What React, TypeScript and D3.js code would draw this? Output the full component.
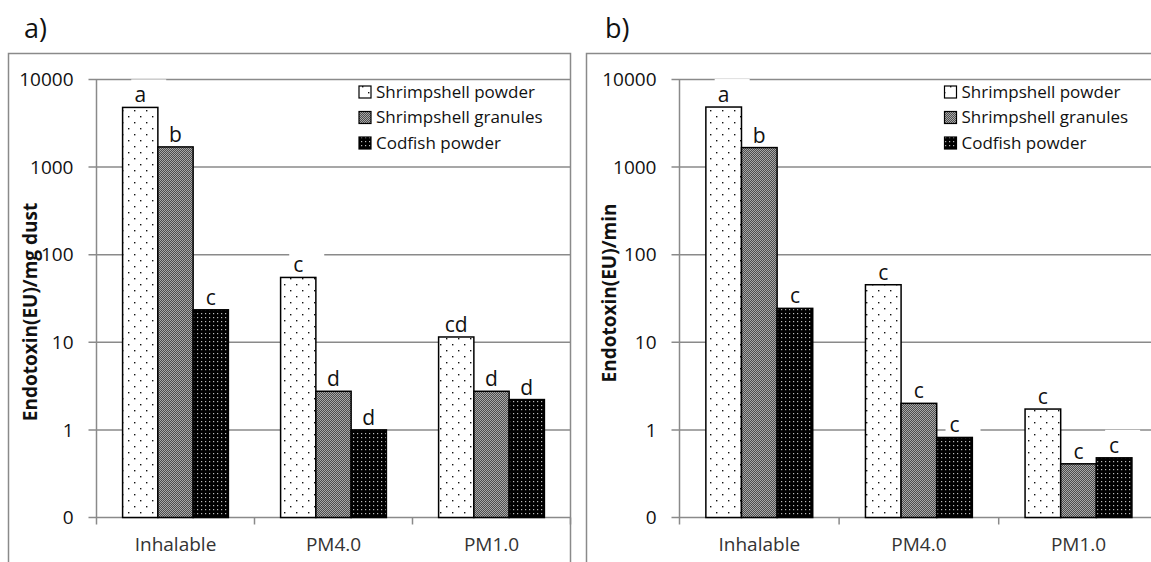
import { useEffect, useRef } from "react";
import * as d3 from "d3";

const W = 1151;
const H = 562;

const categories = ["Inhalable", "PM4.0", "PM1.0"];
const seriesNames = ["Shrimpshell powder", "Shrimpshell granules", "Codfish powder"];
const yTicks = [0.1, 1, 10, 100, 1000, 10000];
const yTickLabels = ["0", "1", "10", "100", "1000", "10000"];

// a) endotoxin per mg dust
const powderA = [4800, 55, 11.5];
const granulesA = [1700, 2.76, 2.76];
const codfishA = [23.5, 1.0, 2.22];
const lettersA = [
  ["a", "c", "cd"],
  ["b", "d", "d"],
  ["c", "d", "d"],
];

// b) endotoxin per minute
const powderB = [4850, 45.4, 1.73];
const granulesB = [1670, 2.01, 0.41];
const codfishB = [24.4, 0.82, 0.48];
const lettersB = [
  ["a", "c", "c"],
  ["b", "c", "c"],
  ["c", "c", "c"],
];

const FONT = "'Open Sans', sans-serif";
const GRID = "#8a8a8a";
const fills = ["url(#pat-powder)", "url(#pat-granules)", "url(#pat-codfish)"];

const panels = [
  {
    tag: "a)",
    yTitle: "Endotoxin(EU)/mg dust",
    series: [powderA, granulesA, codfishA],
    letters: lettersA,
    frameX: 8.5,
    frameW: 562,
    titleX: 24,
    axisX: 96.5,
    band: 158,
    yTitleX: 37,
    yTitleY: 312,
    legendX: 359,
  },
  {
    tag: "b)",
    yTitle: "Endotoxin(EU)/min",
    series: [powderB, granulesB, codfishB],
    letters: lettersB,
    frameX: 586.5,
    frameW: 600,
    titleX: 605,
    axisX: 679.5,
    band: 159.6,
    yTitleX: 616,
    yTitleY: 293,
    legendX: 944.5,
  },
];

export default function App() {
  const svgRef = useRef<SVGSVGElement>(null);

  useEffect(() => {
    if (!svgRef.current) return;
    document.body.style.margin = "0";

    const svg = d3.select(svgRef.current);
    svg.selectAll("*").remove();

    // fill patterns
    const defs = svg.append("defs");
    const pPowder = defs
      .append("pattern")
      .attr("id", "pat-powder")
      .attr("patternUnits", "userSpaceOnUse")
      .attr("width", 12)
      .attr("height", 12);
    pPowder.append("rect").attr("width", 12).attr("height", 12).attr("fill", "#fff");
    [[2, 2], [8, 8]].forEach(([cx, cy]) =>
      pPowder.append("rect").attr("x", cx).attr("y", cy).attr("width", 1.4).attr("height", 1.4).attr("fill", "#111")
    );

    const pGran = defs
      .append("pattern")
      .attr("id", "pat-granules")
      .attr("patternUnits", "userSpaceOnUse")
      .attr("width", 2)
      .attr("height", 2);
    pGran.append("rect").attr("width", 2).attr("height", 2).attr("fill", "#4d4d4d");
    [[0, 0], [1, 1]].forEach(([x, y]) =>
      pGran.append("rect").attr("x", x).attr("y", y).attr("width", 1).attr("height", 1).attr("fill", "#a8a8a8")
    );

    const pCod = defs
      .append("pattern")
      .attr("id", "pat-codfish")
      .attr("patternUnits", "userSpaceOnUse")
      .attr("width", 4)
      .attr("height", 4);
    pCod.append("rect").attr("width", 4).attr("height", 4).attr("fill", "#000");
    pCod.append("rect").attr("x", 1).attr("y", 1).attr("width", 1.2).attr("height", 1.2).attr("fill", "#bbb");

    svg.append("rect").attr("width", W).attr("height", H).attr("fill", "#fff");

    const y = d3.scaleLog().domain([0.1, 10000]).range([517.5, 79.5]);
    const yBase = y(0.1);

    panels.forEach((p) => {
      const g = svg.append("g");
      const xRight = p.axisX + categories.length * p.band;

      const x = d3.scaleBand().domain(categories).range([p.axisX, xRight]).padding(0);
      const xs = d3
        .scaleBand()
        .domain(seriesNames)
        .range([0, p.band])
        .paddingInner(0)
        .paddingOuter(0.74);

      g.append("rect")
        .attr("x", p.frameX)
        .attr("y", 53.5)
        .attr("width", p.frameW)
        .attr("height", 600)
        .attr("fill", "#fff")
        .attr("stroke", GRID)
        .attr("stroke-width", 1.5);

      g.append("text")
        .attr("x", p.titleX)
        .attr("y", 38)
        .attr("font-family", FONT)
        .attr("font-size", 27)
        .attr("fill", "#111")
        .text(p.tag);

      // gridlines (incl. base line)
      g.selectAll(".grid")
        .data(yTicks)
        .join("line")
        .attr("x1", p.axisX - 8)
        .attr("x2", xRight)
        .attr("y1", (d) => y(d))
        .attr("y2", (d) => y(d))
        .attr("stroke", GRID)
        .attr("stroke-width", 1.5);

      g.append("line")
        .attr("x1", p.axisX)
        .attr("x2", p.axisX)
        .attr("y1", y(10000))
        .attr("y2", yBase + 7)
        .attr("stroke", GRID)
        .attr("stroke-width", 1.5);

      categories.forEach((c) => {
        const tx = (x(c) ?? 0) + p.band;
        g.append("line")
          .attr("x1", tx)
          .attr("x2", tx)
          .attr("y1", yBase)
          .attr("y2", yBase + 7)
          .attr("stroke", GRID)
          .attr("stroke-width", 1.5);
      });

      g.selectAll(".ytick")
        .data(yTicks)
        .join("text")
        .attr("x", p.axisX - 23)
        .attr("y", (d) => y(d))
        .attr("dy", "0.35em")
        .attr("text-anchor", "end")
        .attr("font-family", FONT)
        .attr("font-size", 19)
        .attr("fill", "#111")
        .text((_, i) => yTickLabels[i]);

      g.selectAll(".xlab")
        .data(categories)
        .join("text")
        .attr("x", (d) => (x(d) ?? 0) + p.band / 2)
        .attr("y", 551)
        .attr("text-anchor", "middle")
        .attr("font-family", FONT)
        .attr("font-size", 19)
        .attr("fill", "#333")
        .text((d) => d);

      // label boxes hide the gridlines behind the letters
      p.series.forEach((vals, si) => {
        vals.forEach((v, ci) => {
          const cx = (x(categories[ci]) ?? 0) + (xs(seriesNames[si]) ?? 0) + xs.bandwidth() / 2;
          const base = y(v) - 5;
          g.append("rect")
            .attr("x", cx - 9)
            .attr("y", base - 23)
            .attr("width", 35)
            .attr("height", 27)
            .attr("fill", "#fff");
        });
      });

      p.series.forEach((vals, si) => {
        g.selectAll(`.bar${si}`)
          .data(vals)
          .join("rect")
          .attr("x", (_, ci) => (x(categories[ci]) ?? 0) + (xs(seriesNames[si]) ?? 0))
          .attr("y", (d) => y(d))
          .attr("width", xs.bandwidth())
          .attr("height", (d) => yBase - y(d))
          .attr("fill", fills[si])
          .attr("stroke", "#000")
          .attr("stroke-width", 1.5);
      });

      p.series.forEach((vals, si) => {
        vals.forEach((v, ci) => {
          const cx = (x(categories[ci]) ?? 0) + (xs(seriesNames[si]) ?? 0) + xs.bandwidth() / 2;
          g.append("text")
            .attr("x", cx)
            .attr("y", y(v) - 5)
            .attr("text-anchor", "middle")
            .attr("font-family", FONT)
            .attr("font-size", 21)
            .attr("fill", "#111")
            .text(p.letters[si][ci]);
        });
      });

      // legend
      seriesNames.forEach((s, i) => {
        const ly = 92 + i * 25.5;
        g.append("rect")
          .attr("x", p.legendX)
          .attr("y", ly - 6)
          .attr("width", 12)
          .attr("height", 12)
          .attr("fill", fills[i])
          .attr("stroke", "#000")
          .attr("stroke-width", 1.2);
        g.append("text")
          .attr("x", p.legendX + 17)
          .attr("y", ly)
          .attr("dy", "0.35em")
          .attr("font-family", FONT)
          .attr("font-size", 17)
          .attr("fill", "#111")
          .text(s);
      });

      g.append("text")
        .attr("transform", `translate(${p.yTitleX},${p.yTitleY}) rotate(-90)`)
        .attr("text-anchor", "middle")
        .attr("font-family", FONT)
        .attr("font-size", 19)
        .attr("font-weight", "bold")
        .attr("fill", "#111")
        .text(p.yTitle);
    });
  }, []);

  return (
    <svg
      ref={svgRef}
      width={W}
      height={H}
      viewBox={`0 0 ${W} ${H}`}
      style={{ position: "absolute", left: 0, top: 0, display: "block" }}
    />
  );
}
